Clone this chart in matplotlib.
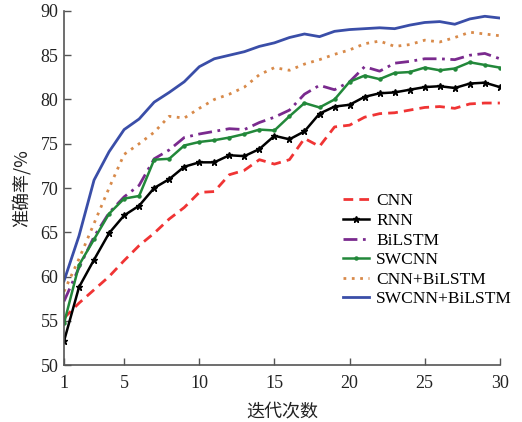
import numpy as np
import matplotlib
matplotlib.use("Agg")
import matplotlib.pyplot as plt

plt.rcParams['font.family'] = ['Liberation Serif', 'Noto Sans CJK SC']

# iteration numbers
epochs = list(range(1, 31))

# accuracy (%) per model
cnn = [55.3, 57.0, 58.5, 60.0, 61.8, 63.5, 64.9, 66.5, 67.8, 69.5,
       69.6, 71.5, 72.0, 73.2, 72.7, 73.2, 75.6, 74.7, 76.9, 77.1,
       78.0, 78.4, 78.5, 78.8, 79.1, 79.2, 79.0, 79.5, 79.6, 79.6]
rnn = [52.7, 58.8, 61.9, 64.9, 66.9, 68.0, 70.0, 71.0, 72.4, 72.9,
       72.9, 73.7, 73.6, 74.4, 75.9, 75.5, 76.4, 78.4, 79.2, 79.4,
       80.3, 80.7, 80.8, 81.1, 81.4, 81.5, 81.3, 81.8, 81.9, 81.4]
bilstm = [57.2, 61.0, 64.5, 67.2, 69.0, 70.3, 73.3, 74.3, 75.7, 76.1,
          76.4, 76.7, 76.6, 77.4, 78.0, 78.8, 80.6, 81.6, 81.1, 82.0,
          83.7, 83.2, 84.1, 84.3, 84.6, 84.6, 84.5, 85.0, 85.2, 84.6]
swcnn = [54.7, 61.3, 64.2, 67.1, 68.8, 69.1, 73.2, 73.3, 74.8, 75.2,
         75.4, 75.7, 76.1, 76.6, 76.5, 78.1, 79.6, 79.1, 80.0, 82.0,
         82.7, 82.3, 83.0, 83.1, 83.6, 83.3, 83.5, 84.2, 83.9, 83.6]
cnn_bilstm = [58.3, 62.0, 66.0, 70.0, 73.8, 75.0, 76.3, 78.1, 77.9, 79.0,
              80.0, 80.6, 81.4, 82.8, 83.6, 83.3, 84.0, 84.5, 85.1, 85.6,
              86.3, 86.6, 86.0, 86.2, 86.7, 86.5, 87.0, 87.6, 87.4, 87.2]
swcnn_bilstm = [59.5, 64.6, 70.9, 74.1, 76.6, 77.8, 79.7, 80.8, 82.0, 83.7,
                84.6, 85.0, 85.4, 86.0, 86.4, 87.0, 87.4, 87.1, 87.7, 87.9,
                88.0, 88.1, 88.0, 88.4, 88.7, 88.8, 88.5, 89.1, 89.4, 89.2]

x_ticks = [1, 5, 10, 15, 20, 25, 30]
y_ticks = [50, 55, 60, 65, 70, 75, 80, 85, 90]

fig = plt.figure(figsize=(5.22, 4.22), dpi=100)
ax = fig.add_axes([0.1226, 0.135, 0.835, 0.839])

ax.plot(epochs, cnn, color='#f03434', lw=2.0, ls=(0, (3.5, 2.2)), label='CNN')
ax.plot(epochs, rnn, color='black', lw=1.8, marker='*', ms=5, label='RNN')
ax.plot(epochs, bilstm, color='#7a2a8e', lw=2.0, ls=(0, (5, 2, 1, 2)), label='BiLSTM')
ax.plot(epochs, swcnn, color='#22883a', lw=1.8, marker='o', ms=2.2, label='SWCNN')
ax.plot(epochs, cnn_bilstm, color='#d88a4a', lw=2.0, ls=(0, (1, 2)), label='CNN+BiLSTM')
ax.plot(epochs, swcnn_bilstm, color='#3a4ea8', lw=2.0, label='SWCNN+BiLSTM')

ax.set_xlim(1, 30)
ax.set_ylim(50, 90)
ax.set_xticks(x_ticks)
ax.set_yticks(y_ticks)
ax.tick_params(direction='in', length=5, width=1, colors='#555555',
               labelcolor='#222222', labelsize=13)
ax.tick_params(axis='x', pad=7)
ax.tick_params(axis='y', pad=4)

for side in ['top', 'right']:
    ax.spines[side].set_visible(False)
for side in ['left', 'bottom']:
    ax.spines[side].set_color('#555555')
    ax.spines[side].set_linewidth(1.2)

ax.set_xlabel('迭代次数', fontsize=13, color='#222222',
              family=['Noto Sans CJK SC', 'DejaVu Sans'], labelpad=8)
ax.set_ylabel('准确率/%', fontsize=13, color='#222222',
              family=['Noto Sans CJK SC', 'DejaVu Sans'], labelpad=6)

ax.legend(loc='upper left', bbox_to_anchor=(0.625, 0.505), frameon=False,
          fontsize=12.5, handlelength=1.5, handletextpad=0.4,
          labelspacing=0.2, borderaxespad=0)

fig.savefig('out.png', dpi=100)
